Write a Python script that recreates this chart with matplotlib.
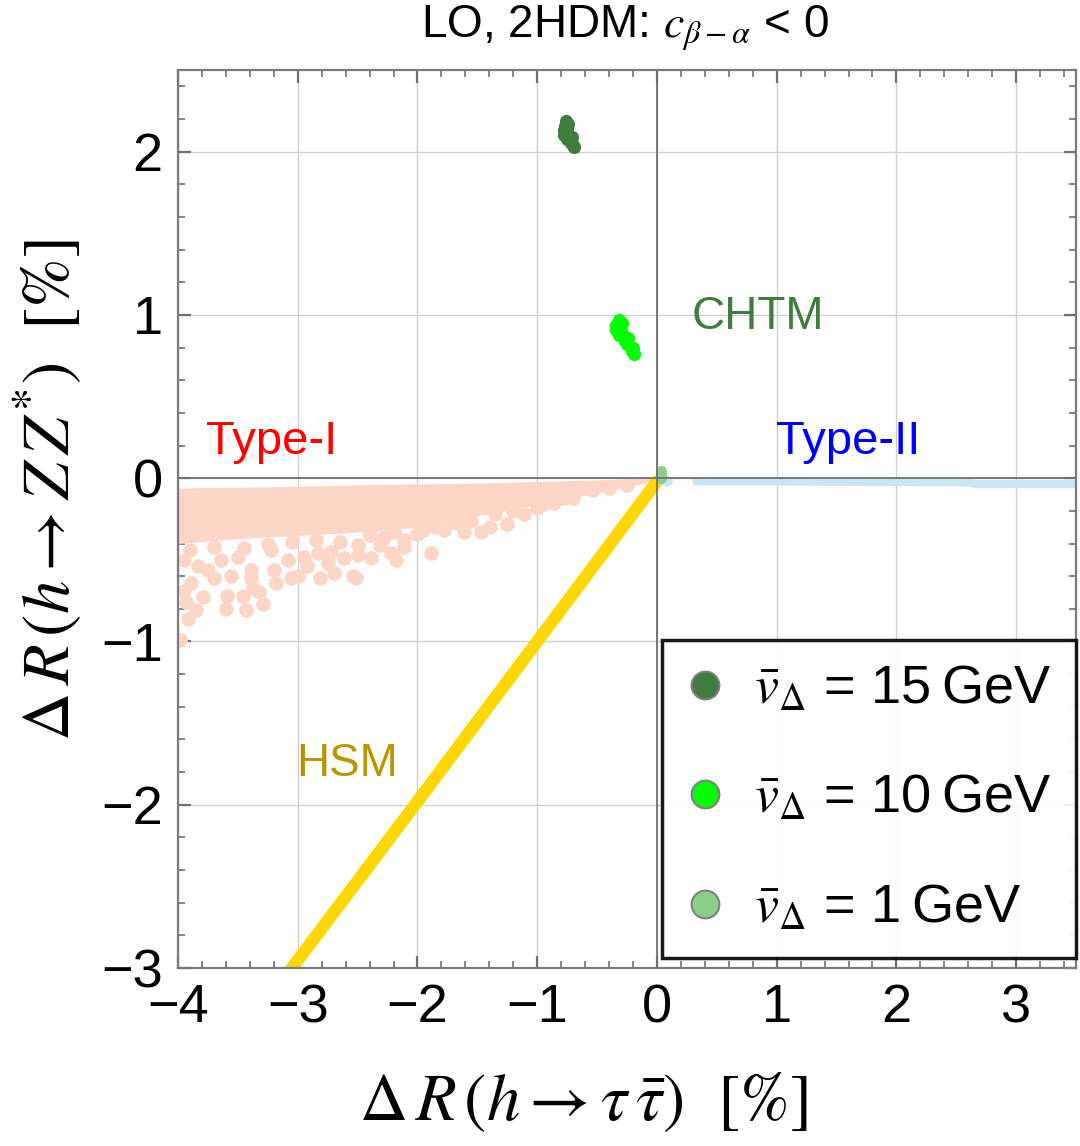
import matplotlib
matplotlib.use("Agg")
import matplotlib.pyplot as plt
from matplotlib.lines import Line2D
import numpy as np

plt.rcParams['font.family'] = ['Liberation Sans', 'DejaVu Sans']
plt.rcParams['mathtext.fontset'] = 'stix'

# Type-I: dense core (envelope) + scattered points below it
typeI_env_x = [-4.0, -3.5, -3.0, -2.5, -2.0, -1.5, -1.0, -0.5, -0.1, 0.0]
typeI_env_top = [-0.06, -0.055, -0.05, -0.04, -0.035, -0.03, -0.02, -0.01, 0.0, 0.0]
typeI_env_bot = [-0.40, -0.37, -0.35, -0.33, -0.30, -0.23, -0.16, -0.09, -0.03, 0.0]
typeI_x = [-3.98, -3.93, -3.92, -3.85, -3.59, -3.60, -3.46, -3.43, -3.29, -3.32,
           -3.37, -3.18, -3.06, -3.00, -2.81, -2.70, -2.54, -2.51, -3.56, -3.70,
           -3.79, -3.95, -3.89, -3.75, -3.39, -3.39, -3.20, -2.92, -2.75, -2.61,
           -2.50, -2.39, -2.22, -2.18, -1.89, -2.11, -2.31, -2.50, -1.78, -1.61,
           -1.47, -1.39, -1.25, -1.11, -1.64, -1.95, -2.95, -3.08, -3.22, -3.50,
           -3.64, -3.83, -3.95, -2.83, -2.72, -2.28, -2.11, -0.86, -0.78, -0.53,
           -1.00, -3.90, -3.70, -3.45, -3.25, -3.05, -2.85, -2.65, -2.40, -2.20,
           -2.00, -1.85, -1.70, -1.55, -1.35, -1.20, -0.95, -0.70, -0.40, -0.25]
typeI_y = [-0.99, -0.76, -0.86, -0.81, -0.72, -0.80, -0.72, -0.81, -0.77, -0.70,
           -0.67, -0.64, -0.61, -0.60, -0.61, -0.58, -0.60, -0.61, -0.60, -0.61,
           -0.73, -0.69, -0.64, -0.56, -0.61, -0.56, -0.56, -0.54, -0.52, -0.49,
           -0.47, -0.49, -0.46, -0.50, -0.46, -0.42, -0.41, -0.41, -0.32, -0.33,
           -0.33, -0.30, -0.28, -0.22, -0.28, -0.32, -0.48, -0.50, -0.44, -0.48,
           -0.50, -0.54, -0.50, -0.46, -0.45, -0.36, -0.38, -0.15, -0.12, -0.07,
           -0.18, -0.44, -0.42, -0.43, -0.40, -0.39, -0.38, -0.39, -0.35, -0.33,
           -0.34, -0.30, -0.27, -0.26, -0.22, -0.20, -0.16, -0.12, -0.06, -0.04]

# Type-II band
typeII_x = [0.33, 1.0, 2.6, 2.65, 3.5]
typeII_y = [-0.02, -0.02, -0.025, -0.035, -0.035]

# HSM line
hsm_x = [0.0, -1.0, -2.0, -3.1]
hsm_y = [-0.02, -1.0, -1.98, -3.05]

# CHTM clusters
chtm15_x = [-0.76, -0.77, -0.78, -0.78, -0.75, -0.74, -0.75, -0.73, -0.72, -0.70, -0.69, -0.71, -0.74]
chtm15_y = [2.19, 2.16, 2.13, 2.10, 2.14, 2.11, 2.08, 2.07, 2.05, 2.04, 2.03, 2.09, 2.17]
chtm10_x = [-0.32, -0.34, -0.34, -0.31, -0.30, -0.32, -0.28, -0.27, -0.25, -0.24, -0.22, -0.21, -0.19, -0.20, -0.29]
chtm10_y = [0.97, 0.94, 0.91, 0.93, 0.90, 0.88, 0.87, 0.84, 0.82, 0.86, 0.80, 0.78, 0.76, 0.80, 0.95]
chtm1_x = [0.035, 0.035]
chtm1_y = [0.0, 0.045]

legend_labels = [r'$\bar{v}_{\Delta}$ = 15' + '\u2009GeV',
                 r'$\bar{v}_{\Delta}$ = 10' + '\u2009GeV',
                 r'$\bar{v}_{\Delta}$ = 1' + '\u2009GeV']

c_type1 = '#fdd5c5'
c_type2 = '#c8e5f8'
c_hsm = '#ffd700'
c15 = '#3e7d3e'
c10 = '#00ff00'
c1 = '#88cf88'

fig = plt.figure(figsize=(10.8, 11.46), dpi=100)
ax = fig.add_axes([0.1648, 0.1553, 0.8315, 0.7836])

ax.fill_between(typeI_env_x, typeI_env_bot, typeI_env_top, color=c_type1, lw=0, zorder=2)
ax.scatter(typeI_x, typeI_y, s=110, color=c_type1, lw=0, zorder=2)
ax.plot(typeII_x, typeII_y, color=c_type2, lw=6, solid_capstyle='round', zorder=2)
ax.scatter([0.08], [-0.02], s=60, color=c_type2, lw=0, zorder=2)
ax.plot(hsm_x, hsm_y, color=c_hsm, lw=9, solid_capstyle='round', zorder=2.5)
ax.scatter(chtm15_x, chtm15_y, s=90, color=c15, lw=0, zorder=3)
ax.scatter(chtm10_x, chtm10_y, s=90, color=c10, lw=0, zorder=3)
ax.plot(chtm1_x, chtm1_y, color=c1, lw=8, solid_capstyle='round', zorder=3)

ax.axhline(0, color='#707070', lw=1.3, zorder=4)
ax.axvline(0, color='#707070', lw=1.3, zorder=4)

ax.set_xlim(-4, 3.5)
ax.set_ylim(-3, 2.5)
ax.set_xticks(np.arange(-4, 4, 1))
ax.set_yticks(np.arange(-3, 3, 1))
ax.set_xticks(np.arange(-4, 3.51, 0.2), minor=True)
ax.set_yticks(np.arange(-3, 2.51, 0.2), minor=True)
ax.grid(True, which='major', color='#d0d0d0', lw=1.0, zorder=0)
ax.set_axisbelow(True)
ax.tick_params(which='both', direction='in', top=True, right=True, color='#707070')
ax.tick_params(which='major', length=9, width=1.6, labelsize=39, pad=11)
ax.tick_params(which='minor', length=5, width=1.2)
for sp in ax.spines.values():
    sp.set_color('#7a7a7a')
    sp.set_linewidth(1.6)

ax.text(-3.22, 0.22, 'Type-I', color='red', fontsize=34, ha='center', va='center')
ax.text(1.6, 0.22, 'Type-II', color='blue', fontsize=34, ha='center', va='center')
ax.text(0.84, 0.99, 'CHTM', color=c15, fontsize=33, ha='center', va='center')
ax.text(-2.59, -1.75, 'HSM', color='#b89600', fontsize=33, ha='center', va='center')

handles = [Line2D([], [], ls='', marker='o', ms=20, mfc=c, mec='#808080', mew=1.5)
           for c in (c15, c10, c1)]
leg = ax.legend(handles, legend_labels, loc='lower right', bbox_to_anchor=(1.0, 0.011),
                fontsize=39, frameon=True, fancybox=False, framealpha=0.9,
                edgecolor='black', labelspacing=1.1, handletextpad=0.55,
                borderpad=0.45, borderaxespad=0, handlelength=0.7)
leg.get_frame().set_linewidth(2.5)

fig.text(0.579, 0.9756, r'LO, 2HDM: $c_{\beta-\alpha}$ < 0', fontsize=33, ha='center', va='center')
fig.text(0.54, 0.0384, r'$\Delta\,R\,(h \rightarrow \tau\,\bar{\tau})\ \ [\%]$', fontsize=48,
         ha='center', va='center')
fig.text(0.044, 0.572, r'$\Delta\,R\,(h \rightarrow Z\,Z^{*})\ \ [\%]$', fontsize=48,
         ha='center', va='center', rotation=90)

fig.savefig('out.png', dpi=100)
